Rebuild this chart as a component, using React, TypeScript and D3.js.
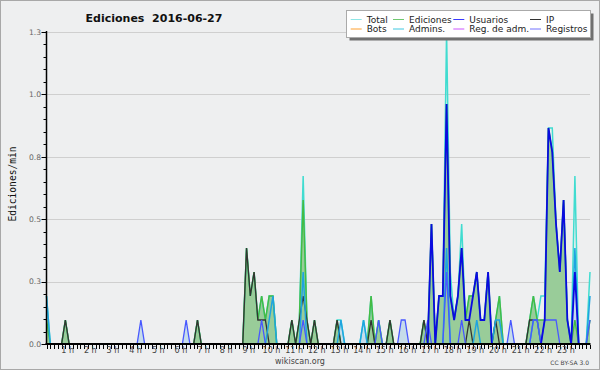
import React from "react";
import * as d3 from "d3";

// Edits per 10-minute bin (145 points, 0 h .. 24 h); plotted as edits/min.
const total = [
  2,0,0,0,0,1,0,0,0,0,0,0,
  0,0,0,0,0,0,0,0,0,0,0,0,
  0,0,0,0,0,0,0,0,0,0,0,0,
  0,0,0,0,1,0,0,0,0,0,0,0,
  0,0,0,0,0,4,2,3,1,2,1,2,
  2,0,0,0,0,1,0,1,7,1,0,1,
  0,0,0,0,0,1,1,0,0,0,0,0,
  1,0,2,0,1,0,0,1,0,0,0,0,
  0,0,0,0,1,0,5,0,2,2,13,3,
  1,2,5,1,2,2,3,1,1,3,0,1,
  2,0,0,0,0,0,0,0,1,2,1,2,
  2,9,9,5,3,6,1,0,7,0,0,0,
  3,
];
const ediciones = [
  1,0,0,0,0,1,0,0,0,0,0,0,
  0,0,0,0,0,0,0,0,0,0,0,0,
  0,0,0,0,0,0,0,0,0,0,0,0,
  0,0,0,0,1,0,0,0,0,0,0,0,
  0,0,0,0,0,4,2,3,1,2,1,2,
  2,0,0,0,0,1,0,1,6,1,0,1,
  0,0,0,0,0,1,0,0,0,0,0,0,
  0,0,2,0,1,0,0,1,0,0,0,0,
  0,0,0,0,1,0,5,0,2,2,10,2,
  1,2,4,1,2,2,3,1,1,3,0,1,
  2,0,0,0,0,0,0,0,1,2,1,1,
  1,9,8,5,3,6,1,0,1,0,0,0,
  1,
];
const usuarios = [
  0,0,0,0,0,0,0,0,0,0,0,0,
  0,0,0,0,0,0,0,0,0,0,0,0,
  0,0,0,0,0,0,0,0,0,0,0,0,
  0,0,0,0,0,0,0,0,0,0,0,0,
  0,0,0,0,0,0,0,0,0,0,0,0,
  0,0,0,0,0,0,0,0,0,0,0,0,
  0,0,0,0,0,0,0,0,0,0,0,0,
  0,0,0,0,0,0,0,0,0,0,0,0,
  0,0,0,0,0,0,5,0,2,2,10,2,
  1,2,4,1,1,2,3,1,1,3,0,0,
  0,0,0,0,0,0,0,0,0,0,0,0,
  1,9,8,5,3,6,1,0,3,0,0,0,
  0,
];
const ip = [
  0,0,0,0,0,1,0,0,0,0,0,0,
  0,0,0,0,0,0,0,0,0,0,0,0,
  0,0,0,0,0,0,0,0,0,0,0,0,
  0,0,0,0,1,0,0,0,0,0,0,0,
  0,0,0,0,0,4,2,3,1,1,1,0,
  0,0,0,0,0,1,0,1,2,1,0,1,
  0,0,0,0,0,1,0,0,0,0,0,0,
  0,0,1,0,0,0,0,1,0,0,0,0,
  0,0,0,0,1,0,0,0,0,0,0,0,
  0,0,0,0,1,0,0,0,0,0,0,1,
  0,0,0,0,0,0,0,0,1,1,1,0,
  0,0,0,0,0,0,0,0,0,0,0,0,
  0,
];
const bots = [
  0,0,0,0,0,0,0,0,0,0,0,0, 0,0,0,0,0,0,0,0,0,0,0,0,
  0,0,0,0,0,0,0,0,0,0,0,0, 0,0,0,0,0,0,0,0,0,0,0,0,
  0,0,0,0,0,0,0,0,0,0,0,0, 0,0,0,0,0,0,0,0,0,0,0,0,
  0,0,0,0,0,0,0,0,0,0,0,0, 0,0,0,0,0,0,0,0,0,0,0,0,
  0,0,0,0,0,0,0,0,0,0,0,0, 0,0,0,0,0,0,0,0,0,0,0,0,
  0,0,0,0,0,0,0,0,0,0,0,0, 0,0,0,0,0,0,0,0,0,0,0,0,
  0,
];
const admins = [
  2,0,0,0,0,0,0,0,0,0,0,0,
  0,0,0,0,0,0,0,0,0,0,0,0,
  0,0,0,0,0,0,0,0,0,0,0,0,
  0,0,0,0,0,0,0,0,0,0,0,0,
  0,0,0,0,0,0,0,0,0,0,0,1,
  2,0,0,0,0,0,0,0,3,0,0,0,
  0,0,0,0,0,0,1,0,0,0,0,0,
  1,0,0,0,0,0,0,0,0,0,0,0,
  0,0,0,0,0,0,0,0,0,0,4,0,
  0,0,0,0,0,0,1,0,0,0,0,1,
  1,0,0,0,0,0,0,0,0,1,1,0,
  0,0,0,0,0,0,0,0,4,0,0,0,
  2,
];
const regAdm = [
  0,0,0,0,0,0,0,0,0,0,0,0, 0,0,0,0,0,0,0,0,0,0,0,0,
  0,0,0,0,0,0,0,0,0,0,0,0, 0,0,0,0,0,0,0,0,0,0,0,0,
  0,0,0,0,0,0,0,0,0,0,0,0, 0,0,0,0,0,0,0,0,0,0,0,0,
  0,0,0,0,0,0,0,0,0,0,0,0, 0,0,0,0,0,0,0,0,0,0,0,0,
  0,0,0,0,0,0,0,0,0,0,0,0, 0,0,0,0,0,0,0,0,0,0,0,0,
  0,0,0,0,0,0,0,0,0,0,0,0, 0,0,0,0,0,0,0,0,0,0,0,0,
  0,
];
const registros = [
  0,0,0,0,0,0,0,0,0,0,0,0,
  0,0,0,0,0,0,0,0,0,0,0,0,
  0,1,0,0,0,0,0,0,0,0,0,0,
  0,1,0,0,0,0,0,0,0,0,0,0,
  0,0,0,0,0,0,0,0,0,1,0,0,
  0,0,0,0,0,0,0,0,1,0,0,0,
  0,0,0,0,0,0,0,0,0,0,0,0,
  0,0,0,0,1,0,0,0,0,0,1,1,
  0,0,0,0,0,1,0,0,0,0,3,0,
  0,0,1,0,0,0,0,0,0,0,0,0,
  0,0,0,1,0,0,0,0,0,1,1,0,
  1,1,1,1,0,0,0,0,0,0,0,0,
  1,
];

const hourLabels = [
  "1 h","2 h","3 h","4 h","5 h","6 h","7 h","8 h","9 h","10 h","11 h","12 h",
  "13 h","14 h","15 h","16 h","17 h","18 h","19 h","20 h","21 h","22 h","23 h",
];
const yTickValues = [0, 0.26, 0.52, 0.78, 1.04, 1.3];
const yTickLabels = ["0.0", "0.3", "0.5", "0.8", "1.0", "1.3"];

const legendNames = ["Total", "Ediciones", "Usuarios", "IP", "Bots", "Admins.", "Reg. de adm.", "Registros"];
const colors: Record<string, string> = {
  Total: "#40dcd0",
  Ediciones: "#44bb44",
  Usuarios: "#0a0ae0",
  IP: "#333333",
  Bots: "#ff9922",
  "Admins.": "#1ea4e0",
  "Reg. de adm.": "#cc44ee",
  Registros: "#4858ff",
};
const legendColors: Record<string, string> = {
  Total: "#8ee6e6",
  Ediciones: "#70c870",
  Usuarios: "#3a3aff",
  IP: "#333333",
  Bots: "#ffa030",
  "Admins.": "#40c8e0",
  "Reg. de adm.": "#cc55ff",
  Registros: "#7272ff",
};

const FONT = "'DejaVu Sans', sans-serif";

export default function App() {
  const nBins = total.length - 1;
  const x = d3.scaleLinear().domain([0, nBins]).range([46.5, 590]);
  const y = d3.scaleLinear().domain([0, 1.3]).range([344, 32]);
  const perMin = (c: number) => c / 10;

  const lineGen = d3.line<number>().x((_, i) => x(i)).y((d) => y(perMin(d)));
  const areaGen = d3
    .area<number>()
    .x((_, i) => x(i))
    .y0(y(0))
    .y1((d) => y(perMin(d)));

  const minorTicks = d3.range(0, 26).map((k) => k * 0.052);
  const legendCols = [350.7, 393, 453.3, 530];

  const lines: [number[], string, number][] = [
    [total, "Total", 1.5],
    [ediciones, "Ediciones", 1.5],
    [bots, "Bots", 1.2],
    [regAdm, "Reg. de adm.", 1.2],
    [ip, "IP", 1.3],
    [admins, "Admins.", 1.5],
    [registros, "Registros", 1.3],
    [usuarios, "Usuarios", 1.8],
  ];

  return (
    <svg
      width={600}
      height={370}
      viewBox="0 0 600 370"
      style={{ position: "absolute", left: 0, top: 0, display: "block" }}
      fontFamily={FONT}
    >
      <rect x={0.5} y={0.5} width={599} height={369} fill="#eeeff0" stroke="#a8a8a8" />

      {/* title */}
      <text
        x={154}
        y={21.5}
        textAnchor="middle"
        fontSize={11}
        fontWeight="bold"
        fill="#111"
        style={{ whiteSpace: "pre" }}
      >
        {"Ediciones  2016-06-27"}
      </text>

      {/* gridlines */}
      {yTickValues.slice(1).map((v) => (
        <line key={v} x1={47} x2={590} y1={Math.round(y(v)) + 0.5} y2={Math.round(y(v)) + 0.5} stroke="#cfcfcf" strokeWidth={1} />
      ))}

      {/* fills */}
      <path d={areaGen(admins) || ""} fill="#c6dcea" />
      <path d={areaGen(registros) || ""} fill="#c6dcea" />
      <path d={areaGen(ediciones) || ""} fill="#99cc99" />

      {/* lines */}
      {lines.map(([arr, name, w]) => (
        <path key={name} d={lineGen(arr) || ""} fill="none" stroke={colors[name]} strokeWidth={w} strokeLinejoin="miter" />
      ))}

      {/* y axis */}
      <line x1={46.5} x2={46.5} y1={31} y2={345} stroke="#000" strokeWidth={1.5} />
      {minorTicks.map((v, k) => (
        <line
          key={"m" + k}
          x1={k % 5 === 0 ? 41.5 : 43.5}
          x2={46}
          y1={Math.round(y(v)) + 0.5}
          y2={Math.round(y(v)) + 0.5}
          stroke="#000"
          strokeWidth={1}
        />
      ))}
      {yTickValues.map((v, k) => (
        <text key={"yl" + k} x={41} y={y(v) + 2.8} textAnchor="end" fontSize={7.6} fill="#666">
          {yTickLabels[k]}
        </text>
      ))}
      <text
        transform={`translate(15.5, 184) rotate(-90)`}
        textAnchor="middle"
        fontSize={9.6}
        fontFamily="'DejaVu Sans Mono', monospace"
        fill="#111"
      >
        Ediciones/min
      </text>

      {/* x axis */}
      <line x1={45.5} x2={590.5} y1={344} y2={344} stroke="#000" strokeWidth={2} />
      {total.map((_, i) => (
        <line
          key={"xt" + i}
          x1={Math.round(x(i)) + 0.5}
          x2={Math.round(x(i)) + 0.5}
          y1={345}
          y2={349}
          stroke="#000"
          strokeWidth={1}
        />
      ))}
      {hourLabels.map((lab, k) => (
        <text key={lab} x={x((k + 1) * 6) - 1.5} y={353} textAnchor="middle" fontSize={8} fill="#444">
          {lab}
        </text>
      ))}
      <text x={300} y={363.5} textAnchor="middle" fontSize={8} fill="#444">
        wikiscan.org
      </text>
      <text x={589} y={365} textAnchor="end" fontSize={6} fill="#444">
        CC BY-SA 3.0
      </text>

      {/* legend */}
      <rect x={349.5} y={13.5} width={244} height={27} fill="#707070" />
      <rect x={346.5} y={10.5} width={244} height={27} fill="#ffffff" stroke="#aaaaaa" />
      {legendNames.map((name, k) => {
        const col = k % 4;
        const row = Math.floor(k / 4);
        const lx = legendCols[col];
        const ly = row === 0 ? 19.5 : 29;
        return (
          <g key={name}>
            <line x1={lx} x2={lx + 11} y1={ly} y2={ly} stroke={legendColors[name]} strokeWidth={1} />
            <text x={lx + 16} y={ly + 3.2} fontSize={9} fill="#222">
              {name}
            </text>
          </g>
        );
      })}
    </svg>
  );
}
